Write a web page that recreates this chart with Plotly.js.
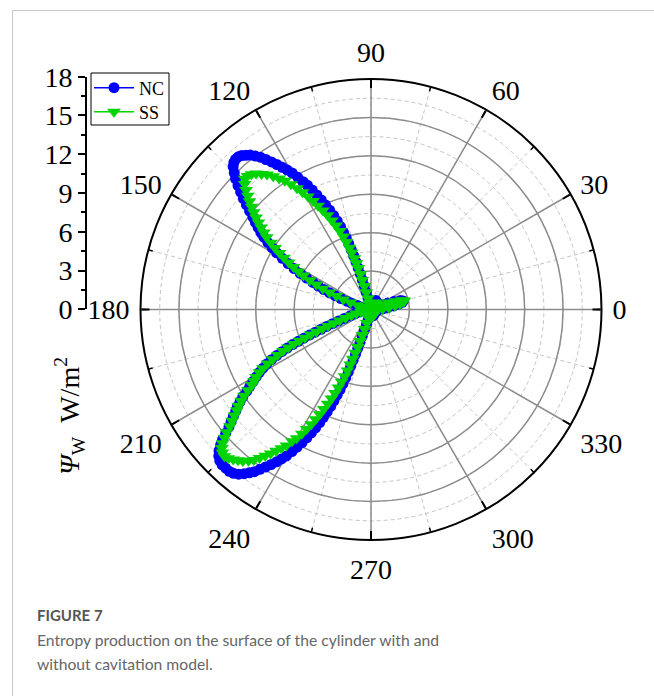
<!DOCTYPE html>
<html>
<head>
<meta charset="utf-8">
<script src="https://cdn.plot.ly/plotly-3.0.1.min.js"></script>
<style>html,body{margin:0;padding:0;background:#fff;}#chart{width:654px;height:696px;}</style>
</head>
<body>
<div id="chart"></div>
<script>
// ---- data ----
const seriesNames = ["NC", "SS"];
const angleTickVals = [0, 30, 60, 90, 120, 150, 180, 210, 240, 270, 300, 330];
const angleTickText = ["0", "30", "60", "90", "120", "150", "180", "210", "240", "270", "300", "330"];
const radialTickVals = [0, 3, 6, 9, 12, 15, 18];

const thetaNC = [
  0,3,6,9,11,13,15,17,19,21,24,28,
  32,38,44,50,56,62,68,74,80,86,92,98,102,
  104,104.8,105.4,105.9,106.3,106.7,107.1,107.5,107.9,108.3,108.7,109.1,109.6,110.2,110.9,111.7,112.6,113.5,114.4,115.3,116.2,117.1,118,119,120,121,122,123,124,125,126,127,128,129,130,131,132,133,134,135,136,137,138,139,140,141,142,143,144,145,146,147,148,149,150,151,152,153,154,155,156,157,158,159,160,161,162,163.5,165,
  168,172,176,180,184,
  188,192,195,197,198.5,199.5,200.3,201,201.6,202.1,202.6,203.1,203.6,204.1,204.7,205.3,206,206.8,207.6,208.5,209.4,210.4,211.4,212.4,213.3,214.2,215.1,216,216.9,217.8,218.7,219.6,220.4,221.2,222,222.9,223.9,225,226.2,227.5,228.8,230,231.2,232.3,233.3,234.3,235.2,236.2,237.2,238.2,239.1,240,240.9,241.8,242.6,243.4,244.2,244.9,245.6,246.2,246.8,247.4,247.9,248.4,248.9,249.3,249.7,250,250.3,250.6,250.9,251.2,251.5,251.9,252.4,253.2,254.5,257,
  262,268,274,280,286,292,298,304,310,316,322,328,334,340,346,352,356,360
];
const rNC = [
  0.5,0.9,1.3,1.8,2.2,2.5,2.6,2.4,1.9,1.4,0.9,0.6,
  0.5,0.5,0.6,0.6,0.7,0.8,0.7,0.6,0.5,0.4,0.4,0.4,0.4,
  0.5,0.9,1.4,1.9,2.4,2.9,3.4,3.9,4.4,4.9,5.4,5.9,6.4,6.9,7.4,7.9,8.4,8.9,9.4,9.9,10.4,10.9,11.3,11.8,12.3,12.7,13.1,13.5,13.9,14.3,14.7,15.0,15.3,15.5,15.7,15.8,15.8,15.7,15.5,15.1,14.7,14.2,13.7,13.2,12.7,12.2,11.7,11.3,10.9,10.5,10.1,9.6,9.1,8.6,8.0,7.4,6.8,6.2,5.6,5.0,4.5,4.0,3.5,3.0,2.5,2.0,1.6,1.1,0.7,
  0.5,0.4,0.4,0.5,0.5,
  0.6,0.9,1.3,1.7,2.2,2.7,3.2,3.7,4.2,4.7,5.2,5.7,6.2,6.7,7.2,7.7,8.2,8.7,9.2,9.6,10.0,10.4,10.8,11.2,11.6,12.1,12.5,12.9,13.2,13.6,14.0,14.4,14.9,15.4,15.8,16.2,16.5,16.7,16.8,16.8,16.8,16.7,16.5,16.2,15.9,15.6,15.2,14.8,14.4,14.0,13.6,13.2,12.7,12.2,11.7,11.2,10.7,10.2,9.7,9.2,8.7,8.2,7.7,7.2,6.7,6.2,5.7,5.2,4.7,4.2,3.7,3.2,2.7,2.2,1.7,1.2,0.8,0.5,
  0.4,0.4,0.5,0.5,0.5,0.5,0.4,0.4,0.4,0.4,0.4,0.4,0.4,0.4,0.4,0.45,0.45,0.5
];
const thetaSS = [
  0,3,6,9,11,13,15,17,19,21,24,28,
  32,38,44,50,56,62,68,74,80,86,92,98,102,
  104,104.8,105.4,105.9,106.3,106.7,107.1,107.5,108,108.6,109.2,109.9,110.7,111.6,112.6,113.7,114.8,115.9,117,118.1,119.2,120.3,121.4,122.6,123.8,125,126.3,127.6,128.9,130.2,131.5,132.8,134,135.2,136.3,137.3,138.3,139.3,140.3,141.3,142.3,143.3,144.3,145.3,146.3,147.3,148.3,149.3,150.3,151.3,152.3,153.3,154.4,155.5,156.6,157.7,158.8,160,161.2,162.6,164.5,
  168,172,176,180,184,
  188,192,195,197,198.5,199.5,200.3,201,201.6,202.1,202.6,203.1,203.6,204.1,204.7,205.3,206,206.8,207.6,208.5,209.4,210.4,211.4,212.4,213.3,214.2,215.1,216,216.9,217.8,218.7,219.6,220.4,221.2,222,222.9,223.9,225,226.2,227.4,228.6,229.8,231,232.1,233.1,234.1,235.1,236.1,237.1,238.1,239.1,240,240.9,241.7,242.5,243.2,243.9,244.6,245.3,246,246.7,247.3,247.9,248.4,248.9,249.3,249.7,250.1,250.5,250.9,251.4,252,252.8,254,257,
  262,268,274,280,286,292,298,304,310,316,322,328,334,340,346,352,356,360
];
const rSS = [
  0.5,0.9,1.4,1.9,2.3,2.6,2.7,2.5,2.0,1.5,1.0,0.6,
  0.5,0.5,0.5,0.6,0.6,0.6,0.6,0.5,0.5,0.4,0.4,0.4,0.4,
  0.5,0.9,1.4,1.9,2.4,2.9,3.4,3.8,4.2,4.7,5.1,5.6,6.1,6.6,7.1,7.6,8.1,8.6,9.1,9.6,10.1,10.6,11.1,11.6,12.1,12.5,12.9,13.3,13.6,13.9,14.1,14.2,14.2,13.9,13.5,13.1,12.7,12.3,11.9,11.5,11.1,10.7,10.3,9.9,9.4,8.9,8.4,7.9,7.4,6.9,6.4,5.9,5.3,4.7,4.1,3.5,2.9,2.3,1.7,1.1,0.7,
  0.5,0.5,0.4,0.5,0.5,
  0.5,0.8,1.2,1.6,2.1,2.6,3.1,3.6,4.1,4.6,5.1,5.6,6.1,6.6,7.1,7.6,8.1,8.6,9.1,9.6,10.0,10.4,10.7,11.0,11.5,12.0,12.4,12.8,13.1,13.5,13.9,14.3,14.8,15.2,15.6,15.9,16.1,16.2,16.1,15.9,15.7,15.5,15.2,14.9,14.5,14.1,13.7,13.3,12.9,12.5,12.0,11.6,11.1,10.6,10.1,9.6,9.1,8.6,8.1,7.6,7.1,6.6,6.1,5.6,5.1,4.6,4.1,3.6,3.1,2.6,2.1,1.6,1.1,0.7,0.5,
  0.4,0.4,0.4,0.5,0.5,0.5,0.4,0.4,0.4,0.4,0.4,0.4,0.4,0.4,0.4,0.45,0.45,0.5
];

// ---- figure ----
const W = 654, H = 696;
const cx = 371, cy = 309.5, R = 230.5;
const serif = "Liberation Serif, Times New Roman, serif";
const blue = "#0000ff", green = "#00d400";

const traces = [
  {type: "scatter", x: [], y: [], xaxis: "x", yaxis: "y", showlegend: false, hoverinfo: "skip"},
  {type: "scatterpolar", subplot: "polar", r: [], theta: [], showlegend: false, hoverinfo: "skip"},
  {type: "scatterpolar", subplot: "polar3", r: [], theta: [], showlegend: false, hoverinfo: "skip"},
  {type: "scatterpolar", subplot: "polar2", name: seriesNames[0], theta: thetaNC, r: rNC, legend: "legend",
   mode: "lines+markers", line: {color: blue, width: 1.5},
   marker: {symbol: "circle", size: 11, color: blue, line: {width: 0}}},
  {type: "scatterpolar", subplot: "polar2", name: seriesNames[1], theta: thetaSS, r: rSS, legend: "legend2",
   mode: "lines+markers", line: {color: green, width: 1.5},
   marker: {symbol: "triangle-down", size: 12, color: green, line: {width: 0}}}
];

const dom = {x: [(cx - R) / W, (cx + R) / W], y: [1 - (cy + R) / H, 1 - (cy - R) / H]};
const legendCommon = {xanchor: "left", yanchor: "middle", bgcolor: "rgba(0,0,0,0)", borderwidth: 0,
  itemwidth: 40, font: {family: serif, size: 18, color: "#000"}};

const layout = {
  width: W, height: H,
  margin: {l: 0, r: 0, t: 0, b: 0},
  paper_bgcolor: "#fff",
  showlegend: true,
  legend: Object.assign({x: 89 / W, y: 1 - 88 / H}, legendCommon),
  legend2: Object.assign({x: 89 / W, y: 1 - 112 / H}, legendCommon),
  xaxis: {visible: false, domain: [0.02, 0.12], range: [0, 1]},
  yaxis: {domain: [1 - 309.3 / H, 1 - 76.7 / H], range: [0, 18], anchor: "free", position: 86 / W,
    tickmode: "array", tickvals: radialTickVals,
    ticks: "outside", ticklen: 7, tickwidth: 2, tickcolor: "#000",
    showline: true, linewidth: 2, linecolor: "#000", showgrid: false, zeroline: false,
    tickfont: {family: serif, size: 28, color: "#000"},
    minor: {dtick: 1.5, ticks: "outside", ticklen: 4, tickwidth: 2, tickcolor: "#000", showgrid: false}},
  polar: {
    domain: dom, bgcolor: "#fff",
    angularaxis: {dtick: 15, tickmode: "linear", tick0: 0, showticklabels: false, ticks: "inside", ticklen: 4,
      tickwidth: 1.5, tickcolor: "#000", showline: false,
      gridcolor: "#c4c4c4", gridwidth: 1, griddash: "4px,3px"},
    radialaxis: {range: [0, 18], dtick: 1.5, tickmode: "linear", tick0: 0, showticklabels: false, ticks: "",
      showline: false, gridcolor: "#c4c4c4", gridwidth: 1, griddash: "4px,3px"}
  },
  polar2: {
    domain: dom, bgcolor: "rgba(0,0,0,0)",
    angularaxis: {tickmode: "array", tickvals: angleTickVals, showticklabels: false,
      ticks: "inside", ticklen: 8, tickwidth: 2, tickcolor: "#000",
      showline: true, linecolor: "#000", linewidth: 2,
      gridcolor: "#8c8c8c", gridwidth: 1.5},
    radialaxis: {range: [0, 18], tickmode: "array", tickvals: radialTickVals, showticklabels: false, ticks: "",
      showline: false, gridcolor: "#8c8c8c", gridwidth: 1.5}
  },
  polar3: {
    domain: dom, bgcolor: "rgba(0,0,0,0)",
    angularaxis: {tickmode: "array", tickvals: angleTickVals, ticktext: angleTickText,
      ticks: "outside", ticklen: 5, tickcolor: "rgba(0,0,0,0)", showline: false, showgrid: false,
      tickfont: {family: serif, size: 28, color: "#000"}},
    radialaxis: {range: [0, 18], visible: false, showgrid: false}
  },
  shapes: [
    {type: "line", xref: "paper", yref: "paper", x0: 12.5 / W, x1: 1, y0: 1 - 10.5 / H, y1: 1 - 10.5 / H,
      line: {color: "#c8c8c8", width: 1}},
    {type: "line", xref: "paper", yref: "paper", x0: 12.5 / W, x1: 12.5 / W, y0: 0, y1: 1 - 10.5 / H,
      line: {color: "#c8c8c8", width: 1}},
    {type: "rect", xref: "paper", yref: "paper", x0: 91 / W, x1: 169 / W, y0: 1 - 125 / H, y1: 1 - 73 / H,
      fillcolor: "#fff", line: {color: "#000", width: 1}, layer: "above"}
  ],
  annotations: [
    {xref: "paper", yref: "paper", x: 69 / W, y: 1 - 416 / H, xanchor: "center", yanchor: "middle",
      textangle: -90, showarrow: false,
      text: "<i>Ψ</i><sub>W</sub>\u00a0\u00a0W/m<sup>2</sup>",
      font: {family: serif, size: 28, color: "#000"}},
    {xref: "paper", yref: "paper", x: 35 / W, y: 1 - 615 / H, xanchor: "left", yanchor: "middle",
      showarrow: false, text: "FIGURE 7",
      font: {family: "Lato, Open Sans, sans-serif", size: 15, color: "#555", weight: 700}},
    {xref: "paper", yref: "paper", x: 35 / W, y: 1 - 640 / H, xanchor: "left", yanchor: "middle",
      showarrow: false, text: "Entropy production on the surface of the cylinder with and",
      font: {family: "Lato, Open Sans, sans-serif", size: 15.7, color: "#666"}},
    {xref: "paper", yref: "paper", x: 35 / W, y: 1 - 664 / H, xanchor: "left", yanchor: "middle",
      showarrow: false, text: "without cavitation model.",
      font: {family: "Lato, Open Sans, sans-serif", size: 15.7, color: "#666"}}
  ]
};

Plotly.newPlot("chart", traces, layout, {staticPlot: true, displayModeBar: false});
</script>
</body>
</html>
